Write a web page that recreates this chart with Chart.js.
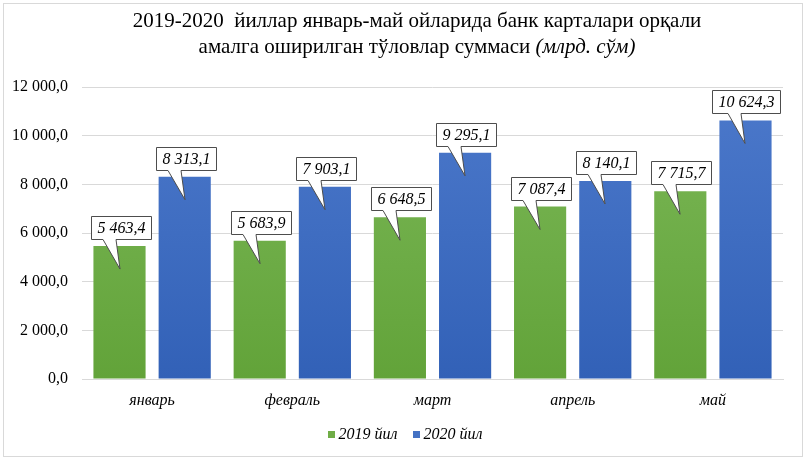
<!DOCTYPE html>
<html><head><meta charset="utf-8">
<script src="https://cdn.jsdelivr.net/npm/chart.js@4/dist/chart.umd.min.js"></script>
<style>html,body{margin:0;padding:0;background:#fff}#wrap{width:808px;height:462px;position:relative}</style>
</head><body><div id="wrap"><canvas id="c" width="808" height="462"></canvas></div>
<script>
const categories = ['январь', 'февраль', 'март', 'апрель', 'май'];
const series2019 = [5463.4, 5683.9, 6648.5, 7087.4, 7715.7];
const series2020 = [8313.1, 7903.1, 9295.1, 8140.1, 10624.3];
const seriesNames = ['2019 йил', '2020 йил'];
const seriesColors = ['#70ad47', '#4472c4'];
const yMin = 0, yMax = 12000, yStep = 2000;
const titleLine1 = '2019-2020  йиллар январь-май ойларида банк карталари орқали';
const titleLine2a = 'амалга оширилган тўловлар суммаси ';
const titleLine2b = '(млрд. сўм)';

const SERIF = '"Liberation Serif", "Times New Roman", serif';

function fmt(v) {
  const s = Math.abs(v).toFixed(1).split('.');
  const int = s[0].replace(/\B(?=(\d{3})+(?!\d))/g, ' ');
  return (v < 0 ? '-' : '') + int + ',' + s[1];
}

function grad(ctx, top, bottom) {
  const chart = ctx.chart;
  const a = chart.chartArea;
  if (!a) return top;
  const g = chart.ctx.createLinearGradient(0, a.top, 0, a.bottom);
  g.addColorStop(0, top);
  g.addColorStop(1, bottom);
  return g;
}

const frame = {
  id: 'frame',
  beforeDraw(chart) {
    const c = chart.ctx;
    c.save();
    c.fillStyle = '#fff';
    c.fillRect(0, 0, chart.width, chart.height);
    c.strokeStyle = '#d9d9d9';
    c.lineWidth = 1;
    c.strokeRect(3.5, 3.5, 799, 453);
    c.restore();
  },
  afterDraw(chart) {
    const c = chart.ctx;
    c.save();
    c.fillStyle = '#000';
    c.textBaseline = 'alphabetic';
    const cx = 417;
    c.font = '21px ' + SERIF;
    c.textAlign = 'center';
    c.fillText(titleLine1, cx, 27);
    const w1 = c.measureText(titleLine2a).width;
    c.font = 'italic 21px ' + SERIF;
    const w2 = c.measureText(titleLine2b).width;
    const x0 = cx - (w1 + w2) / 2;
    c.textAlign = 'left';
    c.font = '21px ' + SERIF;
    c.fillText(titleLine2a, x0, 53);
    c.font = 'italic 21px ' + SERIF;
    c.fillText(titleLine2b, x0 + w1, 53);

    // legend
    c.font = 'italic 16px ' + SERIF;
    c.textBaseline = 'middle';
    const ly = 434;
    const box = 7, gapText = 4, gapItem = 15;
    const widths = seriesNames.map(n => c.measureText(n).width);
    let total = 0;
    widths.forEach((w, i) => { total += box + gapText + w + (i ? gapItem : 0); });
    let x = 405 - total / 2;
    seriesNames.forEach((n, i) => {
      c.fillStyle = seriesColors[i];
      c.fillRect(Math.round(x), ly - 3, box, box);
      c.fillStyle = '#000';
      c.fillText(n, x + box + gapText, ly + 1);
      x += box + gapText + widths[i] + gapItem;
    });
    c.restore();
  }
};

const callouts = {
  id: 'callouts',
  afterDatasetsDraw(chart) {
    const c = chart.ctx;
    c.save();
    c.font = 'italic 16px ' + SERIF;
    chart.data.datasets.forEach((ds, di) => {
      const meta = chart.getDatasetMeta(di);
      meta.data.forEach((el, i) => {
        const text = fmt(ds.data[i]);
        const tw = c.measureText(text).width;
        const bw = Math.round(tw + 12), bh = 23;
        const cx = Math.round(el.x);
        const top = el.y;
        const bx = cx + 1 - bw / 2;
        const bb = Math.round(top - 7) + 0.5;
        const bt = bb - bh;
        const L = Math.round(bx) + 0.5, R = L + bw;
        c.beginPath();
        c.moveTo(L, bt);
        c.lineTo(R, bt);
        c.lineTo(R, bb);
        c.lineTo(cx - 4, bb);
        c.lineTo(cx, top + 23);
        c.lineTo(cx - 17, bb);
        c.lineTo(L, bb);
        c.closePath();
        c.fillStyle = '#fff';
        c.fill();
        c.strokeStyle = '#4d4d4d';
        c.lineWidth = 1;
        c.stroke();
        c.fillStyle = '#000';
        c.textAlign = 'center';
        c.textBaseline = 'middle';
        c.fillText(text, (L + R) / 2, bt + bh / 2 + 1);
      });
    });
    c.restore();
  }
};

new Chart(document.getElementById('c'), {
  type: 'bar',
  data: {
    labels: categories,
    datasets: [
      { label: seriesNames[0], data: series2019,
        backgroundColor: (ctx) => grad(ctx, '#7cb858', '#62a339'),
        borderWidth: 0 },
      { label: seriesNames[1], data: series2020,
        backgroundColor: (ctx) => grad(ctx, '#4c79cb', '#3261b7'),
        borderWidth: 0 }
    ]
  },
  options: {
    responsive: false,
    devicePixelRatio: 1,
    animation: false,
    categoryPercentage: 0.93,
    barPercentage: 0.8,
    layout: { padding: { top: 87, right: 25, bottom: 50, left: 0 } },
    plugins: {
      title: { display: false },
      tooltip: { enabled: false },
      legend: { display: false }
    },
    scales: {
      x: {
        grid: { display: false },
        border: { display: true, color: '#d9d9d9' },
        ticks: { color: '#000', padding: 4, font: { family: SERIF, size: 16, style: 'italic' } },
        afterFit(s) { s.height = 33; }
      },
      y: {
        min: yMin, max: yMax,
        grid: { color: '#d9d9d9', drawTicks: false },
        border: { display: false },
        ticks: { stepSize: yStep, color: '#000', padding: 14,
          font: { family: SERIF, size: 16 },
          callback: (v) => fmt(v) },
        afterFit(s) { s.width = 82; }
      }
    }
  },
  plugins: [frame, callouts]
});
</script>
</body></html>
